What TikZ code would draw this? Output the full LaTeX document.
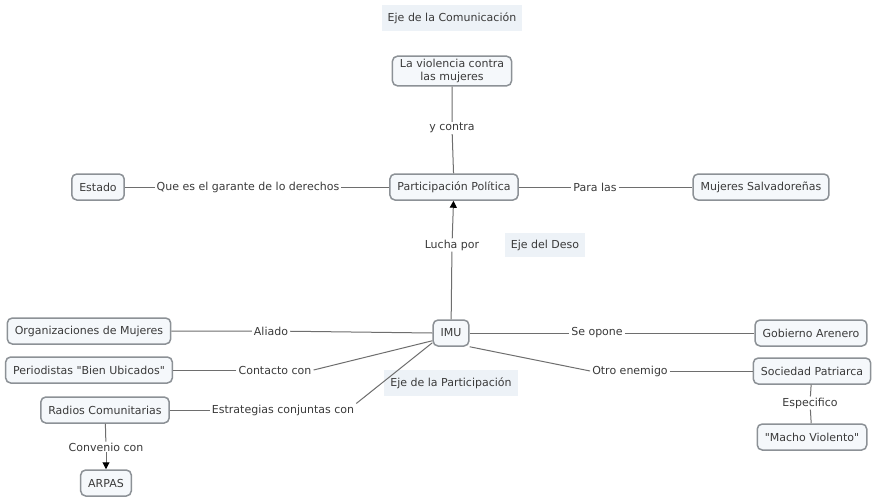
\documentclass[tikz,border=0pt]{standalone}
\usepackage{fontspec}
\newfontfamily\mapfont{DejaVu Sans}
\usetikzlibrary{arrows.meta}
\definecolor{boxfill}{HTML}{F5F8FB}
\definecolor{boxline}{HTML}{8C9196}
\definecolor{linkline}{HTML}{6E6E6E}
\definecolor{txt}{HTML}{3A3A3A}
\definecolor{ejefill}{HTML}{EDF2F7}
\tikzset{
  cfont/.style={font=\mapfont\fontsize{11}{13}\selectfont, text=txt},
  concept/.style={cfont, draw=boxline, line width=1.5pt, fill=boxfill, rounded corners=5pt,
    inner xsep=7.5pt, inner ysep=3pt, minimum height=26pt, align=center},
  linklabel/.style={cfont, fill=white, inner xsep=2pt, inner ysep=1pt},
  eje/.style={cfont, fill=ejefill, inner xsep=6pt, inner ysep=7pt},
  link/.style={draw=linkline, line width=1pt},
  arrowlink/.style={link, -{Triangle[length=7pt,width=7pt,color=black]}}
}
\begin{document}
\begin{tikzpicture}[x=1pt,y=-1pt]
\useasboundingbox[fill=white] (0,0) rectangle (876,496);

% axis captions
\node[eje] (ejecom) at (452,18) {Eje de la Comunicación};
\node[eje] (ejedes) at (545,245) {Eje del Deso};
\node[eje] (ejepar) at (451,383) {Eje de la Participación};

% concepts
\node[concept] (violencia) at (452,71) {La violencia contra\\las mujeres};
\node[concept] (partic) at (454,187) {Participación Política};
\node[concept] (estado) at (98,187) {Estado};
\node[concept] (mujsal) at (761,187) {Mujeres Salvadoreñas};
\node[concept] (imu) at (451,333) {IMU};
\node[concept] (orgmuj) at (89,331) {Organizaciones de Mujeres};
\node[concept] (period) at (89,370) {Periodistas "Bien Ubicados"};
\node[concept] (radios) at (105,410) {Radios Comunitarias};
\node[concept] (arpas) at (106,483) {ARPAS};
\node[concept] (gobierno) at (811,333) {Gobierno Arenero};
\node[concept] (sociedad) at (812,371) {Sociedad Patriarca};
\node[concept] (macho) at (812,437) {"Macho Violento"};

% linking phrases
\node[linklabel] (ycontra) at (452,128) {y contra};
\node[linklabel] (garante) at (248,187) {Que es el garante de lo derechos};
\node[linklabel] (paralas) at (595,187) {Para las};
\node[linklabel] (lucha) at (452,245) {Lucha por};
\node[linklabel] (aliado) at (271,331) {Aliado};
\node[linklabel] (contacto) at (275,370) {Contacto con};
\node[linklabel] (estrat) at (283,410) {Estrategias conjuntas con};
\node[linklabel] (convenio) at (106,447) {Convenio con};
\node[linklabel] (seopone) at (597,333) {Se opone};
\node[linklabel] (otro) at (630,371) {Otro enemigo};
\node[linklabel] (especif) at (810,403) {Especifico};

% connectors
\draw[link] (violencia) -- (ycontra) -- (partic);
\draw[link] (estado) -- (garante) -- (partic);
\draw[link] (partic) -- (paralas) -- (mujsal);
\draw[link] (imu) -- (lucha);
\draw[arrowlink] (lucha) -- (partic);
\draw[link] (imu.west) -- (aliado) -- (orgmuj);
\draw[link] (imu.south west) ++(0,-6) -- (contacto.east);
\draw[link] (contacto) -- (period);
\draw[link] (imu.south west) ++(0,-4) -- (estrat.north east);
\draw[link] (estrat) -- (radios);
\draw[link] (radios) -- (convenio);
\draw[arrowlink] (convenio) -- (arpas);
\draw[link] (imu.east) -- (seopone) -- (gobierno);
\draw[link] (imu.south east) -- (otro.west);
\draw[link] (otro) -- (sociedad);
\draw[link] (sociedad) -- (especif) -- (macho);
\end{tikzpicture}
\end{document}
